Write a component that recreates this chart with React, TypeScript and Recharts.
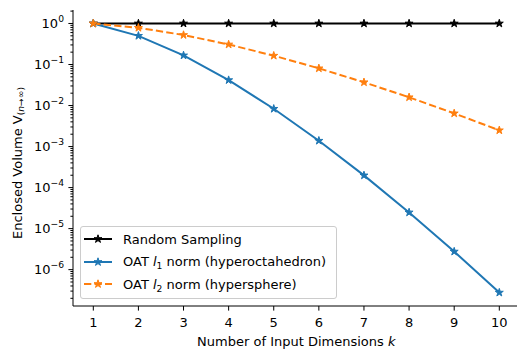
import React from "react";
import { LineChart, Line, XAxis, YAxis, Label } from "recharts";

const K = [1, 2, 3, 4, 5, 6, 7, 8, 9, 10];
const RANDOM = [1, 1, 1, 1, 1, 1, 1, 1, 1, 1];
const L1 = [1, 0.5, 0.1667, 0.04167, 0.008333, 0.001389, 0.0001984, 0.0000248, 0.00000276, 0.000000276];
const L2 = [1, 0.785, 0.524, 0.308, 0.164, 0.0807, 0.0369, 0.0159, 0.00644, 0.00249];
const Y_MAJOR = [1e-6, 1e-5, 1e-4, 1e-3, 1e-2, 1e-1, 1];
const Y_EXP = ["−6", "−5", "−4", "−3", "−2", "−1", "0"];
const Y_MINOR_SUBS = [2, 3, 4, 5, 6, 7, 8, 9];

const FONT = "DejaVu Sans";
const BLACK = "#000000";
const BLUE = "#1f77b4";
const ORANGE = "#ff7f0e";

const data = K.map((k, i) => ({ k, random: RANDOM[i], l1: L1[i], l2: L2[i] }));
const yMinor: number[] = [];
[1e-7, ...Y_MAJOR].forEach((d) => Y_MINOR_SUBS.forEach((s) => {
  const v = d * s;
  if (v > 1.3e-7 && v < 2.13) yMinor.push(v);
}));
const yTicks = [...Y_MAJOR, ...yMinor];

const AX_LEFT = 73;
const AX_BOTTOM = 306;

function starPath(cx: number, cy: number, r: number) {
  const ri = r * 0.381966;
  let d = "";
  for (let i = 0; i < 10; i++) {
    const a = ((-90 + i * 36) * Math.PI) / 180;
    const rr = i % 2 === 0 ? r : ri;
    d += (i === 0 ? "M" : "L") + (cx + rr * Math.cos(a)).toFixed(2) + "," + (cy + rr * Math.sin(a)).toFixed(2);
  }
  return d + "Z";
}

const makeDot = (color: string) => (props: any) => {
  const { cx, cy, index } = props;
  if (cx == null || cy == null) return <g key={index} />;
  return <path key={index} d={starPath(cx, cy, 4.2)} fill={color} stroke={color} strokeWidth={1} />;
};

const YTick = (props: any) => {
  const { y, payload } = props;
  const v = payload.value;
  const idx = Y_MAJOR.findIndex((m) => Math.abs(m - v) / m < 1e-6);
  if (idx < 0) {
    return <line x1={AX_LEFT} x2={AX_LEFT - 2.6} y1={y} y2={y} stroke={BLACK} strokeWidth={1} />;
  }
  return (
    <g>
      <line x1={AX_LEFT} x2={AX_LEFT - 4.6} y1={y} y2={y} stroke={BLACK} strokeWidth={1} />
      <text x={AX_LEFT - 9} y={y + 4.7} textAnchor="end" fontFamily={FONT} fontSize={13} fill={BLACK}>
        <tspan>10</tspan>
        <tspan dy={-6} fontSize={9.2}>{Y_EXP[idx]}</tspan>
      </text>
    </g>
  );
};

const XTick = (props: any) => {
  const { x, payload } = props;
  return (
    <g>
      <line x1={x} x2={x} y1={AX_BOTTOM} y2={AX_BOTTOM + 4.6} stroke={BLACK} strokeWidth={1} />
      <text x={x} y={326.5} textAnchor="middle" fontFamily={FONT} fontSize={13} fill={BLACK}>
        {payload.value}
      </text>
    </g>
  );
};

const renderXLabel = () => (
  <text x={296.3} y={346} textAnchor="middle" fontFamily={FONT} fontSize={13} fill={BLACK}>
    <tspan>Number of Input Dimensions </tspan>
    <tspan fontStyle="italic">k</tspan>
  </text>
);

const renderYLabel = () => (
  <text x={17} y={163} transform="rotate(-90, 17, 163)" textAnchor="middle" dominantBaseline="central" fontFamily={FONT} fontSize={13} fill={BLACK}>
    <tspan>Enclosed Volume V</tspan>
    <tspan dy={3} fontSize={9.2}>(</tspan>
    <tspan fontSize={9.2} fontStyle="italic">n</tspan>
    <tspan fontSize={9.2}>→∞)</tspan>
  </text>
);

const LEGEND_ITEMS = [
  { key: "random", color: BLACK, dash: "", pre: "Random Sampling", sub: "", post: "" },
  { key: "l1", color: BLUE, dash: "", pre: "OAT ", sub: "1", post: " norm (hyperoctahedron)" },
  { key: "l2", color: ORANGE, dash: "7.3 3.2", pre: "OAT ", sub: "2", post: " norm (hypersphere)" },
];

const LegendBox = () => (
  <div
    style={{
      position: "absolute",
      left: 80,
      top: 226,
      boxSizing: "border-box",
      width: 257,
      height: 73,
      border: "1px solid #cccccc",
      borderRadius: 3,
      background: "rgba(255,255,255,0.8)",
      paddingTop: 1,
      fontFamily: FONT,
      fontSize: 13,
      color: BLACK,
      lineHeight: "normal",
    }}
  >
    {LEGEND_ITEMS.map((it) => (
      <div key={it.key} style={{ height: 22.5, display: "flex", alignItems: "center" }}>
        <svg width={28} height={12} style={{ marginLeft: 3, marginRight: 11, overflow: "visible" }}>
          <line x1={0} x2={28} y1={6} y2={6} stroke={it.color} strokeWidth={2} strokeDasharray={it.dash || undefined} />
          <path d={starPath(14, 6, 4.2)} fill={it.color} stroke={it.color} strokeWidth={1} />
        </svg>
        <span style={{ whiteSpace: "nowrap" }}>
          {it.pre}
          {it.sub ? (
            <>
              <i>l</i>
              <sub style={{ fontSize: 9.2, verticalAlign: "-3px", lineHeight: 0 }}>{it.sub}</sub>
            </>
          ) : null}
          {it.post}
        </span>
      </div>
    ))}
  </div>
);

export default function App() {
  return (
    <div style={{ position: "fixed", left: 0, top: 0, width: 517, height: 351, overflow: "hidden", background: "#ffffff" }}>
      <LineChart width={530} height={351} data={data} margin={{ top: 10, right: 10.4, bottom: 0, left: 0 }}>
        <XAxis
          dataKey="k"
          type="number"
          domain={[0.55, 10.45]}
          allowDataOverflow
          ticks={K}
          interval={0}
          tick={<XTick />}
          tickLine={false}
          axisLine={{ stroke: BLACK, strokeWidth: 1 }}
          height={45}
        >
          <Label content={renderXLabel} />
        </XAxis>
        <XAxis
          xAxisId="top"
          orientation="top"
          dataKey="k"
          type="number"
          domain={[0.55, 10.45]}
          height={0}
          tick={false}
          tickLine={false}
          axisLine={{ stroke: BLACK, strokeWidth: 1 }}
        />
        <YAxis
          scale="log"
          domain={[1.3e-7, 2.13]}
          allowDataOverflow
          ticks={yTicks}
          interval={0}
          tick={<YTick />}
          tickLine={false}
          axisLine={{ stroke: BLACK, strokeWidth: 1 }}
          width={73}
        >
          <Label content={renderYLabel} />
        </YAxis>
        <YAxis
          yAxisId="right"
          orientation="right"
          width={0}
          tick={false}
          tickLine={false}
          axisLine={{ stroke: BLACK, strokeWidth: 1 }}
        />
        <Line dataKey="random" stroke={BLACK} strokeWidth={2} dot={makeDot(BLACK)} activeDot={false} isAnimationActive={false} />
        <Line dataKey="l1" stroke={BLUE} strokeWidth={2} dot={makeDot(BLUE)} activeDot={false} isAnimationActive={false} />
        <Line dataKey="l2" stroke={ORANGE} strokeWidth={2} strokeDasharray="7.3 3.2" dot={makeDot(ORANGE)} activeDot={false} isAnimationActive={false} />
      </LineChart>
      <LegendBox />
    </div>
  );
}
